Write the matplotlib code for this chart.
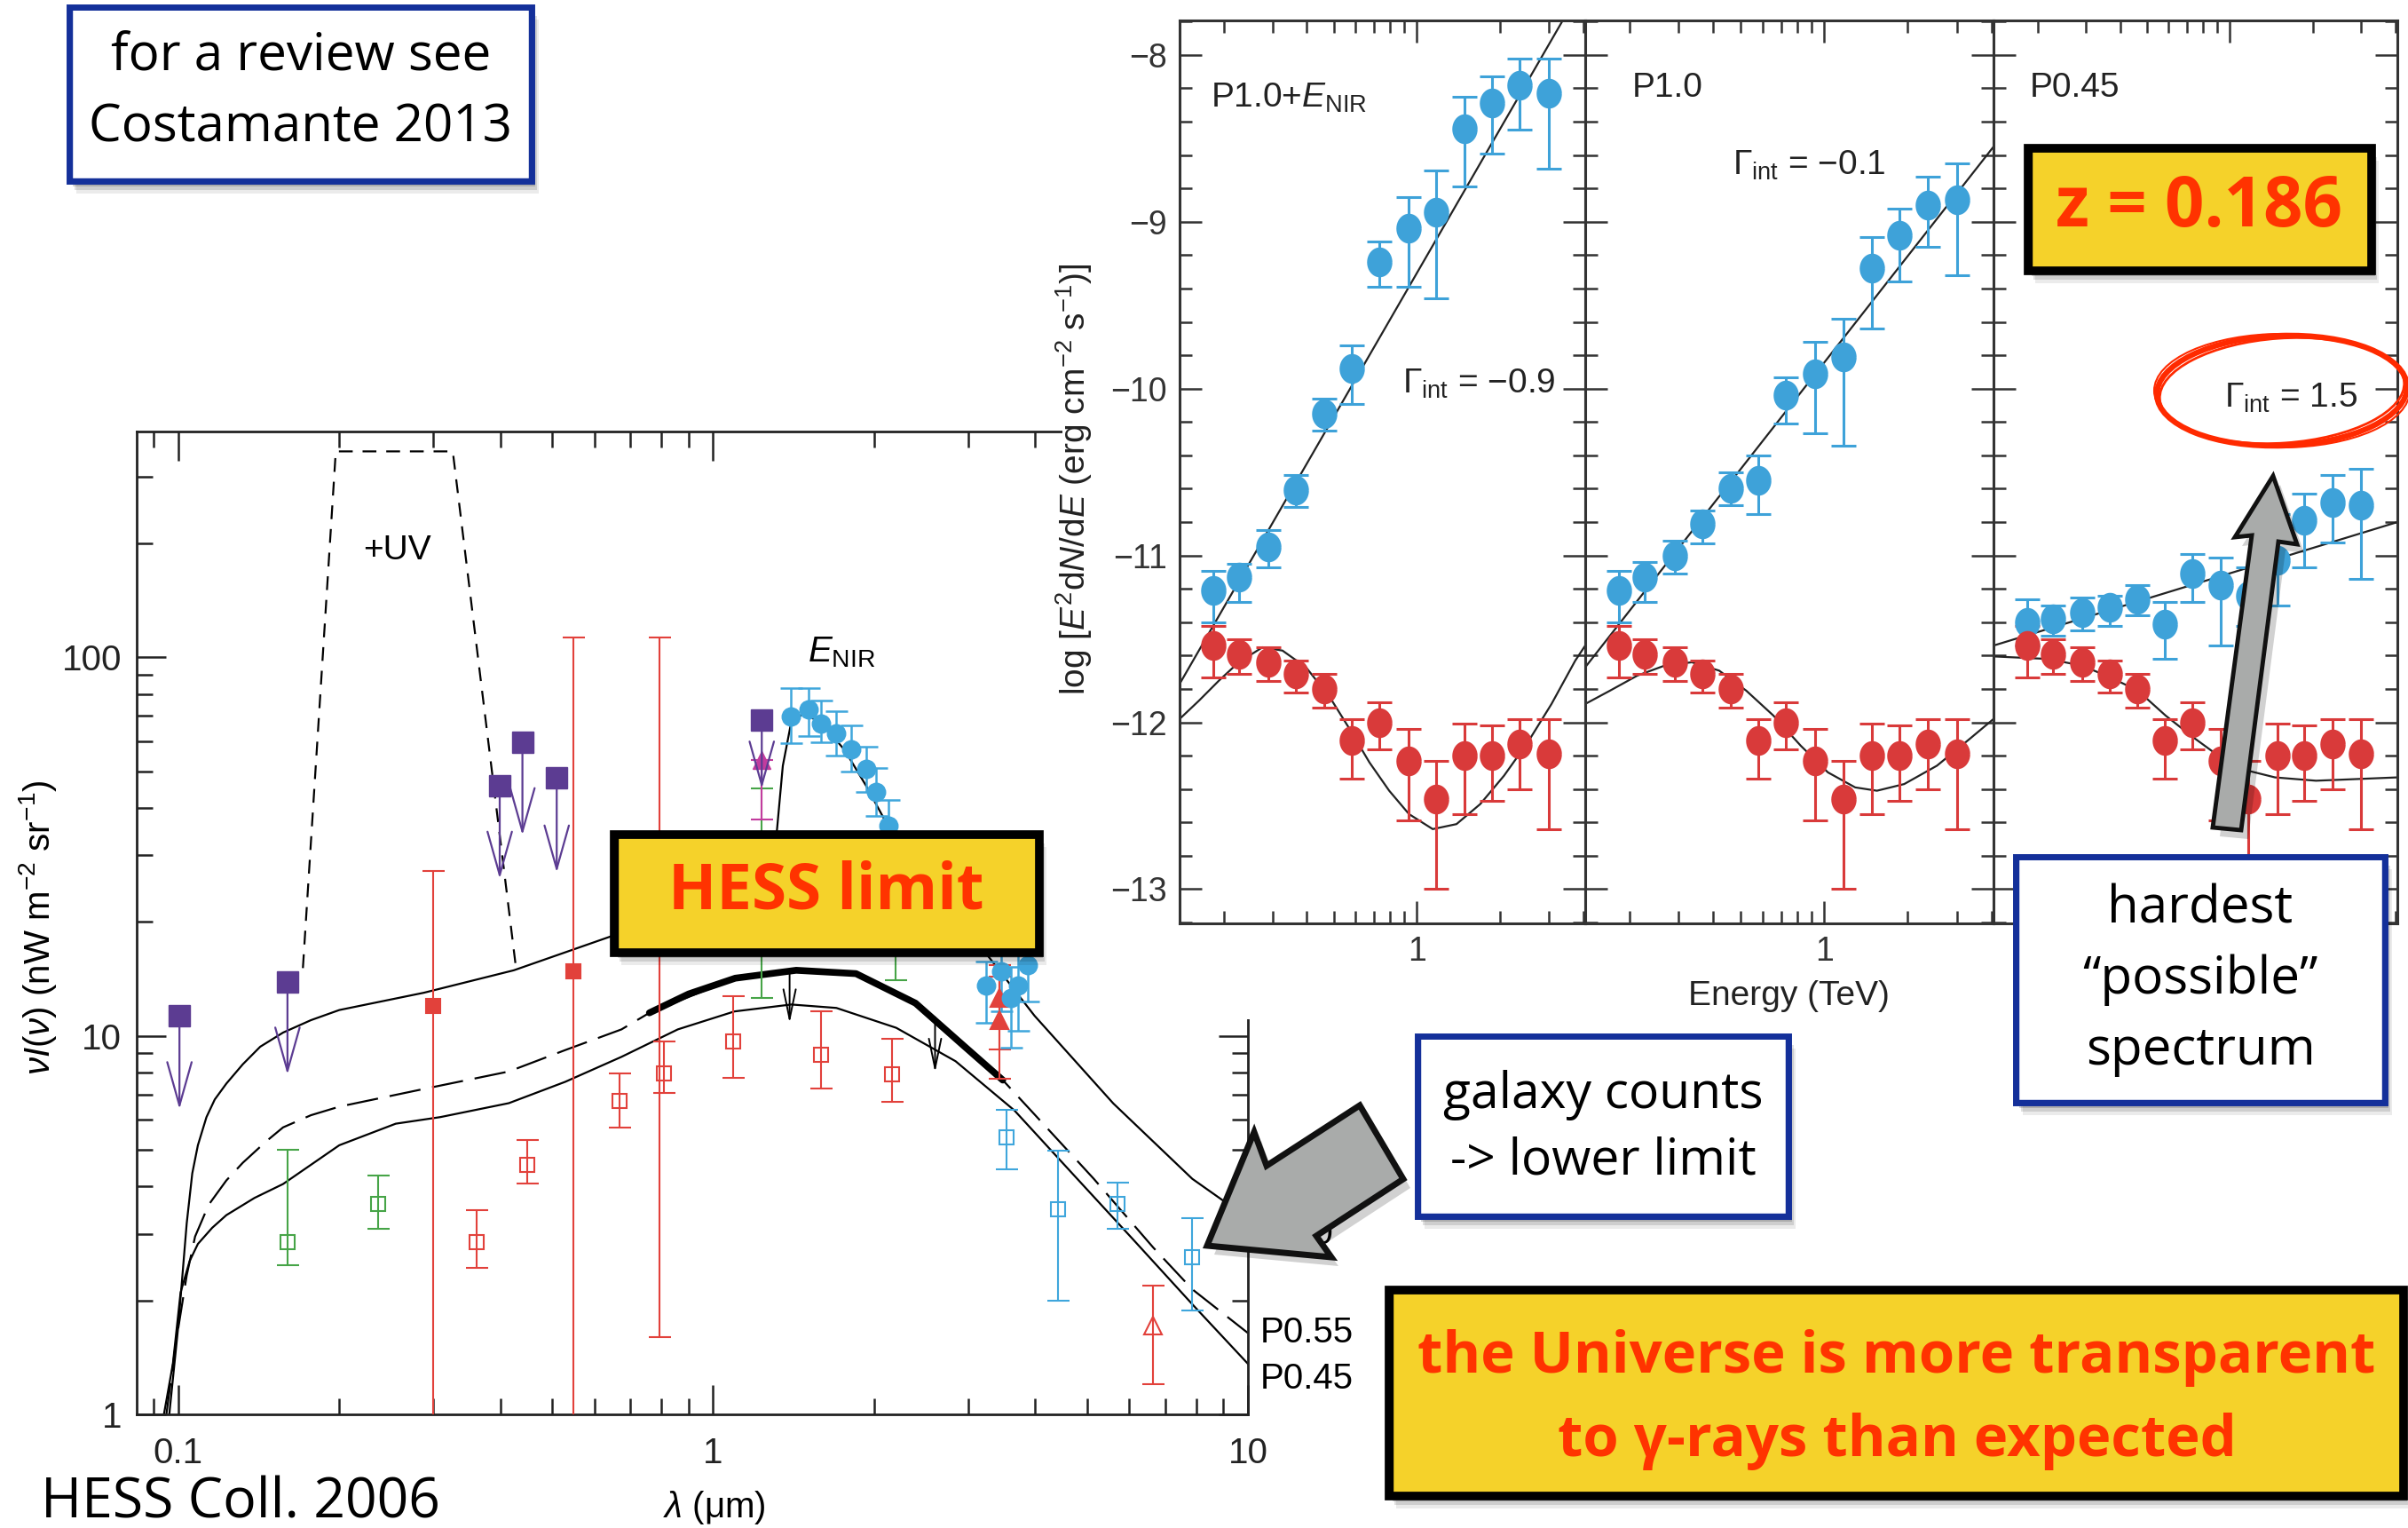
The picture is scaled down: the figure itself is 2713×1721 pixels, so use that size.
import numpy as np
import matplotlib
matplotlib.use('Agg')
import matplotlib.pyplot as plt
from matplotlib.patches import Polygon, Rectangle, Ellipse
from matplotlib.path import Path
from matplotlib.ticker import FixedLocator, FixedFormatter, NullFormatter, MultipleLocator

plt.rcParams['font.family'] = ['Liberation Sans', 'DejaVu Sans']
plt.rcParams['mathtext.fontset'] = 'custom'
plt.rcParams['mathtext.rm'] = 'Liberation Sans'
plt.rcParams['mathtext.it'] = 'Liberation Sans:italic'
plt.rcParams['mathtext.bf'] = 'Liberation Sans:bold'
hand = ['Open Sans', 'DejaVu Sans']

# ---------------- left panel (EBL, HESS 2006) ----------------
# model curves
lam_p045 = [0.094, 0.0977, 0.101, 0.105, 0.1088, 0.1157, 0.123, 0.1388, 0.157, 0.2, 0.255, 0.309,
            0.415, 0.529, 0.674, 0.859, 1.096, 1.40, 1.70, 2.2, 2.84, 3.66, 4.73, 6.11, 7.88, 10.0]
v_p045 = [1.0, 1.36, 2.1, 2.54, 2.82, 3.11, 3.36, 3.73, 4.06, 5.14, 5.86, 6.1,
          6.64, 7.56, 8.8, 10.4, 11.6, 12.1, 11.85, 10.5, 8.57, 6.35, 4.28, 2.89, 1.95, 1.36]
lam_p055 = [0.095, 0.0988, 0.1037, 0.1075, 0.114, 0.123, 0.132, 0.1457, 0.157, 0.177, 0.2, 0.288,
            0.415, 0.529, 0.674, 0.76, 1.1, 1.43, 1.85, 2.39, 2.94, 3.48, 3.99, 5.15, 6.65, 7.87, 10.0]
v_p055 = [1.0, 1.52, 2.33, 2.95, 3.58, 4.15, 4.62, 5.25, 5.73, 6.17, 6.5, 7.24,
          8.05, 9.17, 10.4, 11.5, 14.2, 14.9, 14.6, 12.2, 9.42, 7.64, 6.2, 4.19, 2.76, 2.14, 1.64]
lam_lim = [0.76, 0.9, 1.1, 1.43, 1.85, 2.39, 2.94, 3.48]
v_lim = [11.5, 12.9, 14.2, 14.9, 14.6, 12.2, 9.42, 7.64]
lam_p10 = [0.0962, 0.0999, 0.1037, 0.1062, 0.1088, 0.1129, 0.117, 0.123, 0.132, 0.1423, 0.157,
           0.177, 0.2, 0.288, 0.424, 0.643, 0.86, 1.1, 1.4, 1.7, 2.2, 2.84, 3.25, 3.99, 5.6, 7.87, 10.0]
v_p10 = [1.0, 1.69, 3.2, 4.33, 5.14, 6.1, 6.79, 7.48, 8.41, 9.36, 10.2,
         11.0, 11.7, 13.0, 14.9, 18.3, 22.5, 25.5, 26.8, 26.3, 23.3, 19.0, 16.4, 11.3, 6.63, 4.19, 3.3]
lam_nir = [1.25, 1.316, 1.35, 1.40, 1.464, 1.495, 1.61, 1.76, 1.93, 2.08, 2.3, 2.6, 2.84]
v_nir = [26.5, 34.8, 51.7, 67.5, 70.5, 70.8, 65.9, 57.0, 45.9, 37.8, 30.0, 24.0, 19.0]
lam_uv = [0.171, 0.197, 0.326, 0.428]
v_uv = [15.1, 350.0, 350.0, 15.1]
# upper-limit arrows on the HESS limit curve
lam_lim_arrow = [1.39, 2.6]
v_lim_arrow_top = [14.9, 11.2]
v_lim_arrow_end = [10.8, 8.0]

# data points
lam_purple = [0.1005, 0.160, 0.399, 0.44, 0.51, 1.233]
v_purple = [11.3, 13.9, 45.9, 59.8, 48.0, 68.2]
v_purple_end = [6.4, 7.9, 26.0, 33.9, 27.0, 45.0]

lam_red_fill = [0.30, 0.548]
v_red_fill = [12.0, 14.8]
lo_red_fill = [0.5, 0.5]
hi_red_fill = [27.3, 113.0]
lam_red_bar = [0.795]
lo_red_bar = [1.6]
hi_red_bar = [113.0]

lam_red_open = [0.361, 0.449, 0.669, 0.809, 1.09, 1.59, 2.16]
v_red_open = [2.85, 4.57, 6.72, 7.95, 9.67, 8.93, 7.9]
lo_red_open = [2.44, 4.08, 5.72, 7.08, 7.76, 7.27, 6.7]
hi_red_open = [3.46, 5.31, 7.95, 9.67, 12.7, 11.6, 9.84]

lam_red_tri = [3.43, 3.43]
v_red_tri = [12.6, 11.0]
lo_red_tri = [9.2, 7.7]
hi_red_tri = [15.4, 14.3]
lam_red_otri = [6.64]
v_red_otri = [1.72]
lo_red_otri = [1.2]
hi_red_otri = [2.19]

lam_green = [0.16, 0.236, 1.233, 2.19]
v_green = [2.85, 3.59, 24.0, 20.0]
lo_green = [2.48, 3.09, 12.6, 14.0]
hi_green = [5.0, 4.28, 45.1, 26.0]

lam_mag = [1.233]
v_mag = [53.6]
lo_mag = [37.3]

lam_cyan = [1.40, 1.51, 1.59, 1.695, 1.81, 1.93, 2.02, 2.13, 3.24, 3.45, 3.60, 3.72, 3.87]
v_cyan = [69.6, 72.7, 66.9, 63.0, 57.0, 50.6, 44.2, 36.0, 13.6, 14.8, 12.6, 13.6, 15.4]
lo_cyan = [59.3, 62.0, 59.6, 55.0, 50.0, 44.0, 38.0, 31.0, 10.8, 11.6, 9.3, 10.3, 12.3]
hi_cyan = [82.9, 83.0, 76.7, 72.0, 66.0, 58.0, 51.0, 42.0, 15.7, 17.5, 15.2, 16.8, 18.5]

lam_cyan_open = [3.54, 4.42, 5.7, 7.85]
v_cyan_open = [5.4, 3.48, 3.6, 2.6]
lo_cyan_open = [4.43, 2.0, 3.1, 1.88]
hi_cyan_open = [6.36, 4.98, 4.09, 3.3]

# ---------------- right panels (1ES 0347-121 spectra) ----------------
E_bins = [0.183, 0.227, 0.290, 0.366, 0.461, 0.580, 0.731, 0.930, 1.17, 1.49, 1.87, 2.36, 3.00]
obs = [-11.54, -11.59, -11.64, -11.71, -11.80, -12.11, -12.00, -12.23, -12.46, -12.20, -12.20, -12.13, -12.19]
obs_lo = [-11.73, -11.71, -11.75, -11.82, -11.91, -12.34, -12.16, -12.59, -13.0, -12.55, -12.47, -12.40, -12.64]
obs_hi = [-11.42, -11.50, -11.55, -11.63, -11.71, -11.98, -11.88, -12.04, -12.23, -12.01, -12.02, -11.98, -11.98]

int1 = [-11.21, -11.13, -10.95, -10.61, -10.15, -9.88, -9.24, -9.04, -8.94, -8.44, -8.29, -8.18, -8.23]
int1_lo = [-11.40, -11.28, -11.07, -10.71, -10.25, -10.09, -9.39, -9.39, -9.46, -8.79, -8.59, -8.45, -8.68]
int1_hi = [-11.09, -11.05, -10.85, -10.52, -10.06, -9.74, -9.12, -8.85, -8.69, -8.25, -8.13, -8.02, -8.02]
int2 = [-11.21, -11.13, -11.0, -10.81, -10.60, -10.55, -10.04, -9.91, -9.81, -9.28, -9.08, -8.90, -8.87]
int2_lo = [-11.40, -11.28, -11.11, -10.93, -10.70, -10.75, -10.21, -10.27, -10.34, -9.64, -9.36, -9.15, -9.32]
int2_hi = [-11.09, -11.04, -10.91, -10.73, -10.50, -10.40, -9.93, -9.72, -9.58, -9.09, -8.92, -8.73, -8.65]
int3 = [-11.40, -11.38, -11.34, -11.31, -11.26, -11.41, -11.11, -11.18, -11.24, -11.03, -10.79, -10.68, -10.70]
int3_lo = [-11.54, -11.48, -11.45, -11.42, -11.36, -11.62, -11.28, -11.54, -11.42, -11.30, -11.07, -10.92, -11.14]
int3_hi = [-11.26, -11.30, -11.25, -11.24, -11.18, -11.28, -10.99, -11.01, -11.07, -10.75, -10.63, -10.52, -10.48]

# fitted power laws (end points) and absorbed models
fit_E = [0.1384, 4.065]
fit1 = [-11.77, -7.56]
fit2 = [-11.67, -8.55]
fit3 = [-11.54, -10.80]
mod1_E = [0.1384, 0.1627, 0.1921, 0.2266, 0.2764, 0.3262, 0.3967, 0.4841, 0.5708, 0.6731,
          0.7938, 0.9362, 1.141, 1.3907, 1.6952, 2.0661, 2.5184, 3.0694, 3.7418, 4.065]
mod1 = [-11.98, -11.87, -11.75, -11.64, -11.55, -11.57, -11.67, -11.85, -12.04, -12.24,
        -12.41, -12.55, -12.64, -12.61, -12.49, -12.32, -12.12, -11.89, -11.63, -11.54]
mod2_E = [0.1384, 0.170, 0.213, 0.267, 0.3346, 0.4194, 0.5248, 0.6576, 0.824, 1.0321,
          1.2933, 1.5488, 1.9407, 2.5448, 3.3336, 4.065]
mod2 = [-11.89, -11.81, -11.72, -11.66, -11.64, -11.69, -11.81, -11.96, -12.14, -12.30,
        -12.39, -12.41, -12.37, -12.26, -12.10, -11.98]
mod3_E = [0.1384, 0.2177, 0.2899, 0.3674, 0.4633, 0.5849, 0.7366, 0.9262, 1.1656, 1.4602, 2.0575, 4.065]
mod3 = [-11.605, -11.62, -11.66, -11.73, -11.81, -11.96, -12.09, -12.21, -12.29, -12.33, -12.35, -12.33]

panel_int = [(int1, int1_lo, int1_hi), (int2, int2_lo, int2_hi), (int3, int3_lo, int3_hi)]
panel_fit = [fit1, fit2, fit3]
panel_mod = [(mod1_E, mod1), (mod2_E, mod2), (mod3_E, mod3)]
gamma_int = ['\u22120.9', '\u22120.1', '1.5']

# colours
purple = '#5c3c92'
red_l = '#e2413b'
green = '#46a447'
cyan = '#3fa6dc'
magenta = '#c23c9e'
blue_r = '#3ea2d9'
red_r = '#d93a3a'
yellow = '#f5d22a'
txt_red = '#ff3300'
navy = '#14309a'

W, H = 2713, 1721
fig = plt.figure(figsize=(W / 100.0, H / 100.0), dpi=100)
fig.patch.set_facecolor('white')


def rect_px(x0, y0, x1, y1):
    return [x0 / W, 1 - y1 / H, (x1 - x0) / W, (y1 - y0) / H]


def barras(a, x, y, lo, hi, cor, mk, mfc, ms, cs=9, lw=1.5, z=3):
    y = np.array(y, dtype=float)
    yerr = [y - np.array(lo), np.array(hi) - y]
    a.errorbar(x, y, yerr=yerr, fmt='', marker=mk, linestyle='none', color=cor, mfc=mfc, mec=cor,
               ms=ms, capsize=cs, elinewidth=lw, capthick=lw, mew=lw, zorder=z)


# ---------------- left axes ----------------
ax = fig.add_axes(rect_px(154, 486, 1406, 1593))
ax.set_zorder(0)
ax.set_xscale('log')
ax.set_yscale('log')
ax.set_xlim(0.0836, 10)
ax.set_ylim(1, 395)

ax.plot(lam_p045, v_p045, color='k', lw=1.6, zorder=2)
ax.plot(lam_p055, v_p055, color='k', lw=1.6, dashes=(16, 6), zorder=2)
ax.plot(lam_lim, v_lim, color='k', lw=5.5, solid_capstyle='round', zorder=2)
ax.plot(lam_p10, v_p10, color='k', lw=1.6, zorder=2)
ax.plot(lam_nir, v_nir, color='k', lw=1.6, zorder=2)
ax.plot(lam_uv, v_uv, color='k', lw=1.6, dashes=(7, 5), zorder=2)
for a_x, a_t, a_e in zip(lam_lim_arrow, v_lim_arrow_top, v_lim_arrow_end):
    ax.annotate('', xy=(a_x, a_e), xytext=(a_x, a_t),
                arrowprops=dict(arrowstyle='->,head_length=1.2,head_width=0.25', color='k', lw=1.4,
                                mutation_scale=20, shrinkA=0, shrinkB=0), zorder=2)

barras(ax, lam_red_fill, v_red_fill, lo_red_fill, hi_red_fill, red_l, 's', red_l, 12)
ax.errorbar(lam_red_bar, [10.0], yerr=[[10.0 - lo_red_bar[0]], [hi_red_bar[0] - 10.0]], fmt='none',
            ecolor=red_l, capsize=9, elinewidth=1.5, capthick=1.5, zorder=3)
barras(ax, lam_red_open, v_red_open, lo_red_open, hi_red_open, red_l, 's', 'none', 12)
barras(ax, lam_red_tri, v_red_tri, lo_red_tri, hi_red_tri, red_l, '^', red_l, 14)
barras(ax, lam_red_otri, v_red_otri, lo_red_otri, hi_red_otri, red_l, '^', 'none', 14)
barras(ax, lam_green, v_green, lo_green, hi_green, green, 's', 'none', 12)
barras(ax, lam_cyan, v_cyan, lo_cyan, hi_cyan, cyan, 'o', cyan, 14, lw=1.8)
barras(ax, lam_cyan_open, v_cyan_open, lo_cyan_open, hi_cyan_open, cyan, 's', 'none', 12)
ax.errorbar(lam_mag, v_mag, yerr=[[v_mag[0] - lo_mag[0]], [0]], fmt='^', color=magenta, ms=15,
            capsize=9, elinewidth=1.5, capthick=1.5, zorder=3)
for p_x, p_v, p_e in zip(lam_purple, v_purple, v_purple_end):
    ax.annotate('', xy=(p_x, p_e), xytext=(p_x, p_v),
                arrowprops=dict(arrowstyle='->,head_length=1.6,head_width=0.45', color=purple, lw=1.6,
                                mutation_scale=22, shrinkA=0, shrinkB=0), zorder=4)
ax.plot(lam_purple, v_purple, 's', color=purple, ms=17, zorder=5)

ax.text(0.2565, 192, '+UV', ha='center', va='center', fontsize=28)
ax.text(1.74, 103, r'$E_{\mathrm{NIR}}$', ha='center', va='center', fontsize=29)

ax.xaxis.set_major_locator(FixedLocator([0.1, 1, 10]))
ax.xaxis.set_major_formatter(FixedFormatter(['0.1', '1', '10']))
ax.xaxis.set_minor_locator(FixedLocator([0.09, 0.2, 0.3, 0.4, 0.5, 0.6, 0.7, 0.8, 0.9,
                                         2, 3, 4, 5, 6, 7, 8, 9]))
ax.xaxis.set_minor_formatter(NullFormatter())
ax.yaxis.set_major_locator(FixedLocator([1, 10, 100]))
ax.yaxis.set_major_formatter(FixedFormatter(['1', '10', '100']))
ax.yaxis.set_minor_locator(FixedLocator([2, 3, 4, 5, 6, 7, 8, 9, 20, 30, 40, 50, 60, 70, 80, 90, 200, 300]))
ax.yaxis.set_minor_formatter(NullFormatter())
ax.tick_params(which='both', direction='in', top=True, right=True, width=1.8, colors='#222222')
ax.tick_params(which='major', length=24, labelsize=29)
ax.tick_params(which='minor', length=13)
ax.tick_params(axis='x', which='major', pad=18)
ax.tick_params(axis='y', which='major', pad=12)
for s in ax.spines.values():
    s.set_linewidth(2.0)
    s.set_color('#222222')

# white cover: the right figure sits on top of the left one
cov = fig.add_axes([0, 0, 1, 1])
cov.set_zorder(1)
cov.set_xlim(0, W)
cov.set_ylim(H, 0)
cov.axis('off')
cov.add_patch(Rectangle((1197, 0), W - 1197, 1148, fc='white', ec='none'))

# ---------------- right panels ----------------
t = np.linspace(0, 2 * np.pi, 41)
oval = Path(np.column_stack([np.cos(t) / 1.2, np.sin(t)]))
x_edges = [1329, 1786, 2246, 2701]
for i in range(3):
    ar = fig.add_axes(rect_px(x_edges[i], 23, x_edges[i + 1], 1040))
    ar.set_zorder(2)
    ar.set_xscale('log')
    ar.set_xlim(0.1384, 4.065)
    ar.set_ylim(-13.205, -7.793)
    vals, lo, hi = panel_int[i]
    ar.plot(fit_E, panel_fit[i], color='#222222', lw=1.6, zorder=2)
    ar.plot(panel_mod[i][0], panel_mod[i][1], color='#222222', lw=1.6, zorder=2)
    barras(ar, E_bins, vals, lo, hi, blue_r, oval, blue_r, 22, cs=10, lw=2.2)
    barras(ar, E_bins, obs, obs_lo, obs_hi, red_r, oval, red_r, 22, cs=10, lw=2.2)
    ar.xaxis.set_major_locator(FixedLocator([1]))
    ar.xaxis.set_major_formatter(FixedFormatter(['1']))
    ar.xaxis.set_minor_locator(FixedLocator([0.2, 0.3, 0.4, 0.5, 0.6, 0.7, 0.8, 0.9, 2, 3, 4]))
    ar.xaxis.set_minor_formatter(NullFormatter())
    ar.yaxis.set_major_locator(FixedLocator([-13, -12, -11, -10, -9, -8]))
    ar.yaxis.set_minor_locator(MultipleLocator(0.2))
    if i == 0:
        ar.yaxis.set_major_formatter(FixedFormatter(['\u221213', '\u221212', '\u221211',
                                                     '\u221210', '\u22129', '\u22128']))
    else:
        ar.yaxis.set_major_formatter(NullFormatter())
    ar.tick_params(which='both', direction='in', top=True, right=True, width=1.8, colors='#333333')
    ar.tick_params(which='major', length=18, labelsize=27, pad=10)
    ar.tick_params(which='minor', length=10)
    for s in ar.spines.values():
        s.set_linewidth(2.2)
        s.set_color('#333333')

# ---------------- overlay (labels, notes, arrows) ----------------
ov = fig.add_axes([0, 0, 1, 1])
ov.set_zorder(10)
ov.set_xlim(0, W)
ov.set_ylim(H, 0)
ov.axis('off')
ov.patch.set_alpha(0)

ov.text(43, 1045, r'$\nu I(\nu)$ (nW m$^{-2}$ sr$^{-1}$)', rotation=90, ha='center', va='center', fontsize=29)
ov.text(805, 1698, r'$\lambda$' + ' (\u03bcm)', ha='center', va='center', fontsize=29)
ov.text(1420, 1390, 'P1.0', ha='left', va='center', fontsize=29)
ov.text(1420, 1501, 'P0.55', ha='left', va='center', fontsize=29)
ov.text(1420, 1553, 'P0.45', ha='left', va='center', fontsize=29)

ov.text(1210, 540, r'log [$E^2$d$N$/d$E$ (erg cm$^{-2}$ s$^{-1}$)]', rotation=90,
        ha='center', va='center', fontsize=28, color='#222222')
ov.text(2015, 1122, 'Energy (TeV)', ha='center', va='center', fontsize=28, color='#222222')
ov.text(1364, 110, r'P1.0+$E_{\mathrm{NIR}}$', ha='left', va='center', fontsize=28, color='#222222')
ov.text(1839, 99, 'P1.0', ha='left', va='center', fontsize=28, color='#222222')
ov.text(2287, 99, 'P0.45', ha='left', va='center', fontsize=28, color='#222222')
gam_lbl = r'$\mathit{\u0393}_{\mathrm{int}}$'.replace('\\u0393', '\u0393')
for gx, gy, gv in zip([1753, 2125, 2656], [432, 186, 448], gamma_int):
    ov.text(gx, gy, gam_lbl + ' = ' + gv, ha='right', va='center', fontsize=28, color='#222222')


def sombra(x0, y0, x1, y1):
    for k, al in zip([14, 10, 6], [0.08, 0.12, 0.16]):
        ov.add_patch(Rectangle((x0 + k * 0.6, y0 + k), x1 - x0, y1 - y0, fc='k', ec='none',
                               alpha=al, zorder=4))


def caixa(x0, y0, x1, y1, fc, ec, lw):
    sombra(x0, y0, x1, y1)
    ov.add_patch(Rectangle((x0, y0), x1 - x0, y1 - y0, fc=fc, ec=ec, lw=lw, zorder=5))
    r2 = Rectangle((x0 + 3, y0 + 2), x1 - x0 - 5, y1 - y0 - 4, fc='none', ec=ec, lw=lw * 0.35, zorder=5)
    ov.add_patch(r2)


# review note
caixa(78, 8, 599, 204, 'white', navy, 5)
ov.text(339, 64, 'for a review see', ha='center', va='center', fontsize=42, family=hand, zorder=6)
ov.text(339, 144, 'Costamante 2013', ha='center', va='center', fontsize=42, family=hand, zorder=6)

# HESS limit
caixa(692, 940, 1171, 1073, yellow, 'k', 7)
ov.text(931, 1004, 'HESS limit', ha='center', va='center', fontsize=51, family=hand,
        fontweight='bold', color=txt_red, zorder=6)

# redshift
caixa(2285, 167, 2672, 305, yellow, 'k', 7)
ov.text(2477, 234, 'z = 0.186', ha='center', va='center', fontsize=56, family=hand,
        fontweight='bold', color=txt_red, zorder=6)

# galaxy counts
caixa(1597, 1167, 2015, 1370, 'white', navy, 5)
ov.text(1806, 1234, 'galaxy counts', ha='center', va='center', fontsize=41, family=hand, zorder=6)
ov.text(1806, 1308, '-> lower limit', ha='center', va='center', fontsize=41, family=hand, zorder=6)

# hardest possible spectrum
caixa(2271, 965, 2687, 1242, 'white', navy, 5)
ov.text(2479, 1024, 'hardest', ha='center', va='center', fontsize=42, family=hand, zorder=6)
ov.text(2479, 1104, '\u201cpossible\u201d', ha='center', va='center', fontsize=42, family=hand, zorder=6)
ov.text(2479, 1184, 'spectrum', ha='center', va='center', fontsize=42, family=hand, zorder=6)

# conclusion
caixa(1565, 1453, 2708, 1685, yellow, 'k', 7)
ov.text(2137, 1530, 'the Universe is more transparent', ha='center', va='center', fontsize=47,
        family=hand, fontweight='bold', color=txt_red, zorder=6)
ov.text(2137, 1623, 'to \u03b3-rays than expected', ha='center', va='center', fontsize=47,
        family=hand, fontweight='bold', color=txt_red, zorder=6)

ov.text(46, 1693, 'HESS Coll. 2006', ha='left', va='center', fontsize=45, family=hand, zorder=6)

# red circle round the hardest index
for (w_e, h_e, ang, lw_e) in [(282, 124, -2, 4.5), (276, 118, -4, 2.0), (288, 128, 0, 1.5)]:
    ov.add_patch(Ellipse((2571, 440), w_e, h_e, angle=ang, fill=False, ec='#ff2a00', lw=lw_e, zorder=6))

# grey block arrows
seta1 = [(1360, 1403), (1413, 1275), (1427, 1313), (1532, 1245), (1581, 1328), (1483, 1392), (1500, 1416)]
seta2 = [(2561, 536), (2518, 605), (2537, 603), (2493, 932), (2525, 935), (2567, 610), (2588, 613)]
for seta, lw_s in [(seta1, 5), (seta2, 3.5)]:
    sh = [(p[0] + 8, p[1] + 10) for p in seta]
    ov.add_patch(Polygon(sh, closed=True, fc='k', ec='none', alpha=0.18, zorder=7))
    ov.add_patch(Polygon(seta, closed=True, fc='#a9abaa', ec='#111111', lw=lw_s, joinstyle='miter', zorder=8))

fig.savefig('out.png', dpi=100, facecolor='white')
